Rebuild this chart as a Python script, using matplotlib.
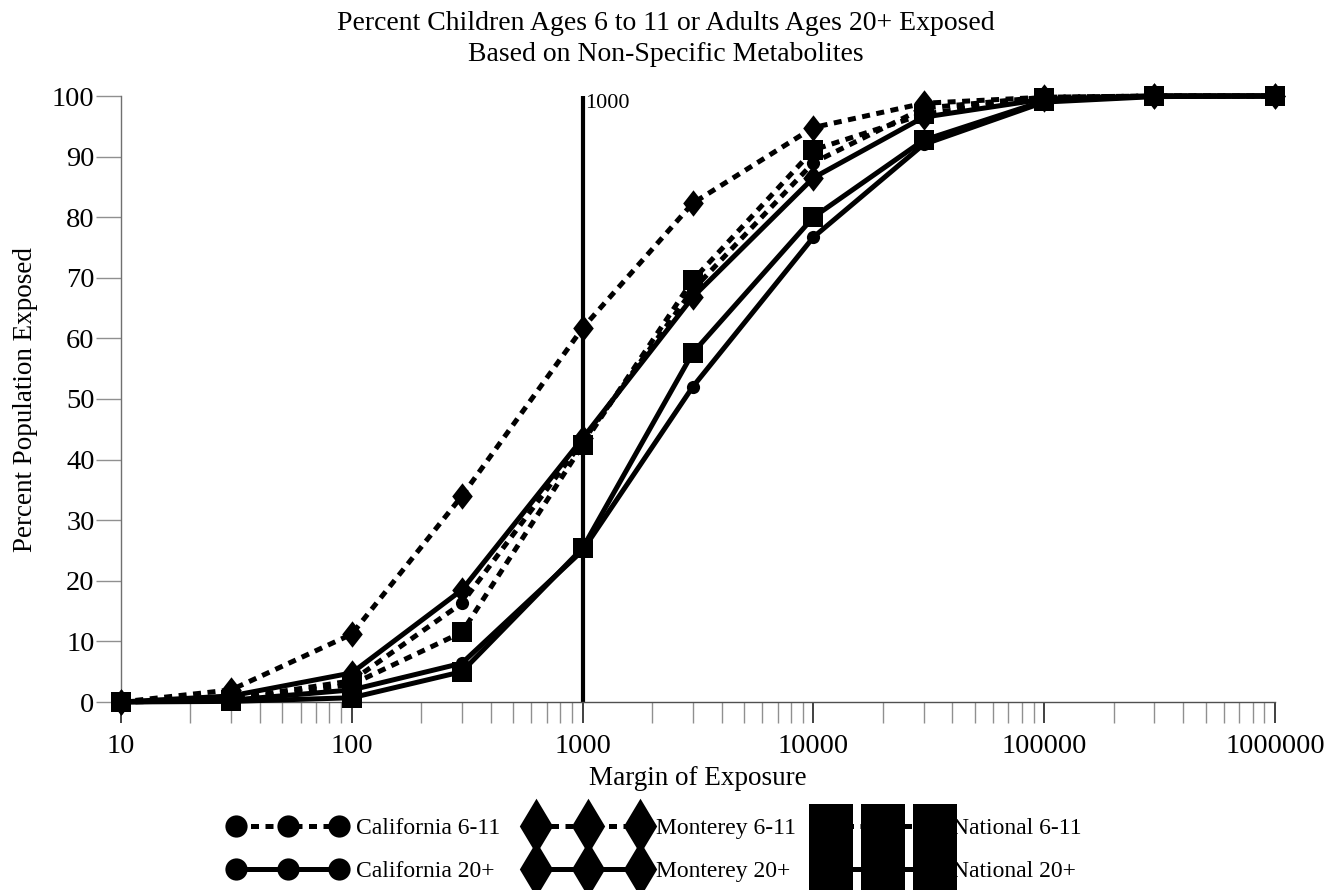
import matplotlib
matplotlib.use("Agg")
import matplotlib.pyplot as plt
from matplotlib.lines import Line2D
from matplotlib.ticker import LogLocator, FixedLocator, NullFormatter

plt.rcParams['font.family'] = ['Liberation Serif', 'DejaVu Serif']

# ---------------- data ----------------
moe = [10, 30, 100, 300, 1000, 3000, 10000, 30000, 100000, 300000, 1000000]
cal_611 = [0, 0.5, 3.5, 16.3, 43.0, 68.0, 89.0, 98.0, 99.8, 100, 100]
cal_20 = [0, 0.3, 2.0, 6.4, 25.0, 52.0, 76.7, 92.0, 99.0, 99.9, 100]
mon_611 = [0, 2.0, 11.2, 34.0, 61.7, 82.3, 94.8, 98.8, 99.8, 100, 100]
mon_20 = [0, 1.0, 4.8, 18.5, 43.5, 66.8, 86.5, 96.5, 99.5, 100, 100]
nat_611 = [0, 0.3, 2.9, 11.5, 42.4, 69.6, 91.1, 97.0, 99.7, 100, 100]
nat_20 = [0, 0.1, 0.7, 5.0, 25.4, 57.6, 80.0, 92.7, 99.2, 100, 100]
ref_moe = 1000
ref_label = "1000"
x_ticks = [10, 100, 1000, 10000, 100000, 1000000]
x_ticklabels = ["10", "100", "1000", "10000", "100000", "1000000"]
y_ticks = [0, 10, 20, 30, 40, 50, 60, 70, 80, 90, 100]

title = "Percent Children Ages 6 to 11 or Adults Ages 20+ Exposed\nBased on Non-Specific Metabolites"
xlabel = "Margin of Exposure"
ylabel = "Percent Population Exposed"

# ---------------- style ----------------
W, H = 1340, 890
fig = plt.figure(figsize=(W / 100, H / 100), dpi=100)
ax = fig.add_axes([121 / W, 1 - 702 / H, (1275 - 121) / W, (702 - 96) / H])

diamond_plot = [(0, 1), (0.78, 0), (0, -1), (-0.78, 0), (0, 1)]
diamond_leg = [(0, 1), (0.6, 0), (0, -1), (-0.6, 0), (0, 1)]
LW = 3.6
dash = (1.6, 1.3)

series = [
    (cal_611, 'o', 9.5, True, "California 6-11"),
    (cal_20, 'o', 9.5, False, "California 20+"),
    (mon_611, diamond_plot, 19, True, "Monterey 6-11"),
    (mon_20, diamond_plot, 19, False, "Monterey 20+"),
    (nat_611, 's', 15, True, "National 6-11"),
    (nat_20, 's', 15, False, "National 20+"),
]

for vals, mk, ms, dashed, lab in series:
    ln, = ax.plot(moe, vals, color='black', lw=LW, marker=mk, markersize=ms,
                  markeredgewidth=0, clip_on=False, zorder=3,
                  solid_capstyle='butt', dash_capstyle='butt')
    if dashed:
        ln.set_dashes(dash)

ax.axvline(ref_moe, color='black', lw=3.0, zorder=2)
ax.text(ref_moe * 1.03, 100.3, ref_label, ha='left', va='top', fontsize=16)

ax.set_xscale('log')
ax.set_xlim(10, 1000000)
ax.set_ylim(0, 100)
ax.xaxis.set_major_locator(FixedLocator(x_ticks))
ax.set_xticklabels(x_ticklabels)
ax.xaxis.set_minor_locator(LogLocator(base=10, subs=range(2, 10)))
ax.xaxis.set_minor_formatter(NullFormatter())
ax.set_yticks(y_ticks)

for s in ['top', 'right']:
    ax.spines[s].set_visible(False)
ax.spines['left'].set_color('#707070')
ax.spines['left'].set_linewidth(1.0)
ax.spines['bottom'].set_color('#505050')
ax.spines['bottom'].set_linewidth(1.0)

ax.tick_params(axis='y', which='major', direction='out', length=18, width=1,
               color='#909090', labelsize=20.5, pad=1)
ax.tick_params(axis='x', which='major', direction='out', length=15, width=1.2,
               color='#202020', labelsize=20.5, pad=8)
ax.tick_params(axis='x', which='minor', direction='out', length=15, width=1,
               color='#909090')

ax.set_xlabel(xlabel, fontsize=19.5, labelpad=5)
ax.set_ylabel(ylabel, fontsize=19.5, labelpad=10)
fig.text(0.497, 1 - 39 / H, title, ha='center', va='center', fontsize=20,
         linespacing=1.35)

# legend proxies
leg_spec = [
    ('o', 16, True, "California 6-11"),
    ('o', 16, False, "California 20+"),
    (diamond_leg, 40, True, "Monterey 6-11"),
    (diamond_leg, 40, False, "Monterey 20+"),
    ('s', 31, True, "National 6-11"),
    ('s', 31, False, "National 20+"),
]
handles = []
for mk, ms, dashed, lab in leg_spec:
    h = Line2D([], [], color='black', lw=LW, marker=mk, markersize=ms,
               markeredgewidth=0, label=lab)
    if dashed:
        h.set_dashes(dash)
    handles.append(h)

fig.legend(handles=handles, ncol=3, loc='center',
           bbox_to_anchor=(655 / W, 1 - 850 / H), frameon=False, fontsize=17,
           numpoints=3, handlelength=5.0, handletextpad=0.4, columnspacing=1.2,
           labelspacing=0.92, borderpad=0.2)

fig.savefig("out.png", dpi=100)
